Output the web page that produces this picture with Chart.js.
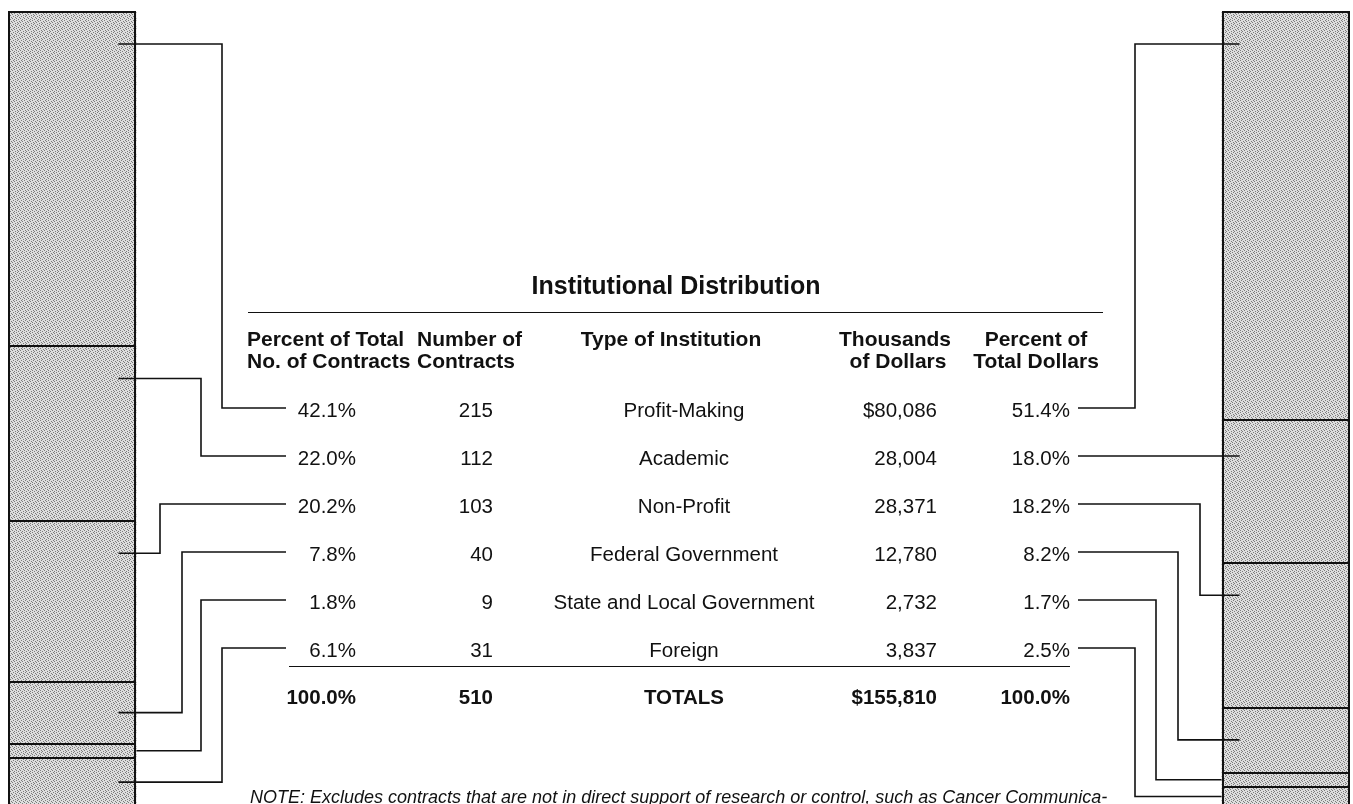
<!DOCTYPE html>
<html>
<head>
<meta charset="utf-8">
<script src="https://cdn.jsdelivr.net/npm/chart.js@4/dist/chart.umd.min.js"></script>
<style>
    html, body { margin: 0; padding: 0; background: #fff; }
    #wrap { position: relative; width: 1353px; height: 804px; overflow: hidden;
            font-family: "Liberation Sans", Arial, Helvetica, sans-serif; color: #111; }
    #grafico { position: absolute; left: 0; top: 0; }
    .t { position: absolute; white-space: nowrap; font-size: 20.5px; line-height: 24px; height: 24px; }
    .b { font-weight: bold; }
    .h { font-size: 21px; }
    .title { font-size: 25px; line-height: 30px; height: 30px; }
    .note { font-size: 18px; font-style: italic; }
    .rule { position: absolute; height: 0; border-top: 1.5px solid #111; }
</style>
</head>
<body>
<div id="wrap">
    <canvas id="grafico" width="1353" height="804"></canvas>
</div>
<script>
// ---[ DATA ]---
const institutionTypes = ['Profit-Making', 'Academic', 'Non-Profit', 'Federal Government', 'State and Local Government', 'Foreign'];
const pctContracts = [42.1, 22.0, 20.2, 7.8, 1.8, 6.1];
const numContracts = [215, 112, 103, 40, 9, 31];
const thousandsDollars = [80086, 28004, 28371, 12780, 2732, 3837];
const pctDollars = [51.4, 18.0, 18.2, 8.2, 1.7, 2.5];
const barLabels = ['Contracts', 'Dollars'];

// ---[ LAYOUT ]---
const W = 1353;
const slotCount = 10;          // the two bars sit in the outer slots of the page
const rowTop = 408;            // y of first table row (connector height)
const rowGap = 48;
const leftStartX = 286;
const rightStartX = 1078;
const leftElbowX = [222, 201, 160, 182, 201, 222];
const rightElbowX = [1135, null, 1200, 1178, 1156, 1135];
const col = { pctC: 356, num: 493, type: 684, dol: 937, pctD: 1070 };

const wrap = document.getElementById('wrap');

// Scrive un testo posizionato (x = ancoraggio, y = centro riga)
function addText(txt, x, y, align, cls) {
    const el = document.createElement('div');
    el.className = 't ' + (cls || '');
    el.textContent = txt;
    const h = cls && cls.indexOf('title') >= 0 ? 30 : 24;
    el.style.top = (y - h / 2) + 'px';
    if (align === 'right') {
        el.style.right = (W - x) + 'px';
    } else if (align === 'center') {
        el.style.left = x + 'px';
        el.style.transform = 'translateX(-50%)';
    } else {
        el.style.left = x + 'px';
    }
    wrap.appendChild(el);
}

function addRule(x1, x2, y) {
    const r = document.createElement('div');
    r.className = 'rule';
    r.style.left = x1 + 'px';
    r.style.width = (x2 - x1) + 'px';
    r.style.top = y + 'px';
    wrap.appendChild(r);
}

function fmt(n) { return n.toLocaleString('en-US'); }
function pct(v) { return v.toFixed(1) + '%'; }
function sum(a) { return a.reduce((s, v) => s + v, 0); }

// ---[ TABELLA ]---
addText('Institutional Distribution', 676, 285, 'center', 'b title');
addRule(248, 1103, 312);

addText('Percent of Total', 247, 339, 'left', 'b h');
addText('No. of Contracts', 247, 361, 'left', 'b h');
addText('Number of', 417, 339, 'left', 'b h');
addText('Contracts', 417, 361, 'left', 'b h');
addText('Type of Institution', 671, 339, 'center', 'b h');
addText('Thousands', 895, 339, 'center', 'b h');
addText('of Dollars', 898, 361, 'center', 'b h');
addText('Percent of', 1036, 339, 'center', 'b h');
addText('Total Dollars', 1036, 361, 'center', 'b h');

institutionTypes.forEach((name, i) => {
    const y = rowTop + i * rowGap + 2;
    addText(pct(pctContracts[i]), col.pctC, y, 'right');
    addText(String(numContracts[i]), col.num, y, 'right');
    addText(name, col.type, y, 'center');
    addText((i === 0 ? '$' : '') + fmt(thousandsDollars[i]), col.dol, y, 'right');
    addText(pct(pctDollars[i]), col.pctD, y, 'right');
});

addRule(289, 1070, 666);
const totY = 697;
addText(pct(sum(pctContracts)), col.pctC, totY, 'right', 'b');
addText(String(sum(numContracts)), col.num, totY, 'right', 'b');
addText('TOTALS', col.type, totY, 'center', 'b');
addText('$' + fmt(sum(thousandsDollars)), col.dol, totY, 'right', 'b');
addText(pct(sum(pctDollars)), col.pctD, totY, 'right', 'b');

addText('NOTE:  Excludes contracts that are not in direct support of research or control, such as Cancer Communica-', 250, 797, 'left', 'note');

// ---[ RETINO GRIGIO DELLE BARRE ]---
function stipple() {
    const c = document.createElement('canvas');
    c.width = 8; c.height = 8;
    const g = c.getContext('2d');
    g.fillStyle = '#dedede';
    g.fillRect(0, 0, 8, 8);
    g.fillStyle = '#7c7c7c';
    const dots = [[1, 0], [5, 0], [3, 1], [7, 1], [0, 2], [4, 2], [2, 3], [6, 3],
                  [0, 4], [5, 4], [3, 5], [6, 5], [1, 6], [4, 6], [2, 7], [7, 7]];
    dots.forEach(p => g.fillRect(p[0], p[1], 1, 1));
    return g.createPattern(c, 'repeat');
}

// ---[ CONTORNI E CONNETTORI ]---
function tieY(bar) {
    const top = Math.min(bar.y, bar.base);
    const h = Math.abs(bar.base - bar.y);
    return top + Math.min(32, h / 2);
}

function tieX(bar, side) {
    const h = Math.abs(bar.base - bar.y);
    const inset = h > 30 ? 18 : 0;
    return side === 'left' ? bar.x + bar.width / 2 - inset : bar.x - bar.width / 2 + inset;
}

function outline(ctx, bar) {
    const x0 = Math.round(bar.x - bar.width / 2) + 1;
    const x1 = Math.round(bar.x + bar.width / 2) - 1;
    const y0 = Math.round(Math.min(bar.y, bar.base));
    const y1 = Math.round(Math.max(bar.y, bar.base));
    ctx.strokeRect(x0, y0, x1 - x0, y1 - y0);
}

function drawConnector(ctx, bar, rowY, elbowX, startX, side) {
    ctx.beginPath();
    ctx.moveTo(startX, rowY);
    if (elbowX === null) {
        ctx.lineTo(tieX(bar, side), rowY);
    } else {
        const ty = tieY(bar);
        ctx.lineTo(elbowX, rowY);
        ctx.lineTo(elbowX, ty);
        ctx.lineTo(tieX(bar, side), ty);
    }
    ctx.stroke();
}

const connectorPlugin = {
    id: 'connettori',
    afterDatasetsDraw(chart) {
        const ctx = chart.ctx;
        ctx.save();
        ctx.strokeStyle = '#111';
        ctx.lineWidth = 2;
        institutionTypes.forEach((_, i) => {
            const meta = chart.getDatasetMeta(i);
            outline(ctx, meta.data[0]);
            outline(ctx, meta.data[slotCount - 1]);
        });
        ctx.lineWidth = 1.6;
        institutionTypes.forEach((_, i) => {
            const meta = chart.getDatasetMeta(i);
            const rowY = rowTop + i * rowGap;
            drawConnector(ctx, meta.data[0], rowY, leftElbowX[i], leftStartX, 'left');
            drawConnector(ctx, meta.data[slotCount - 1], rowY, rightElbowX[i], rightStartX, 'right');
        });
        ctx.restore();
    }
};

// ---[ GRAFICO ]---
const labels = [];
for (let s = 0; s < slotCount; s++) {
    labels.push(s === 0 ? barLabels[0] : (s === slotCount - 1 ? barLabels[1] : ''));
}

const pattern = stipple();
const datasets = institutionTypes.map((name, i) => {
    const values = new Array(slotCount).fill(null);
    values[0] = pctContracts[i];
    values[slotCount - 1] = pctDollars[i];
    return {
        label: name,
        data: values,
        backgroundColor: pattern,
        borderWidth: 0,
        barPercentage: 1,
        categoryPercentage: 0.95
    };
});

const ctx = document.getElementById('grafico').getContext('2d');
new Chart(ctx, {
    type: 'bar',
    data: { labels: labels, datasets: datasets },
    options: {
        responsive: false,
        animation: false,
        devicePixelRatio: 1,
        layout: { padding: { left: 5, right: 0, top: 12, bottom: 0 } },
        scales: {
            x: { display: false, stacked: true },
            // the figure is cropped at the bottom edge, just before 100%
            y: { display: false, stacked: true, reverse: true, min: 0, max: 99.7 }
        },
        plugins: {
            legend: { display: false },
            tooltip: { enabled: false }
        }
    },
    plugins: [connectorPlugin]
});
</script>
</body>
</html>
